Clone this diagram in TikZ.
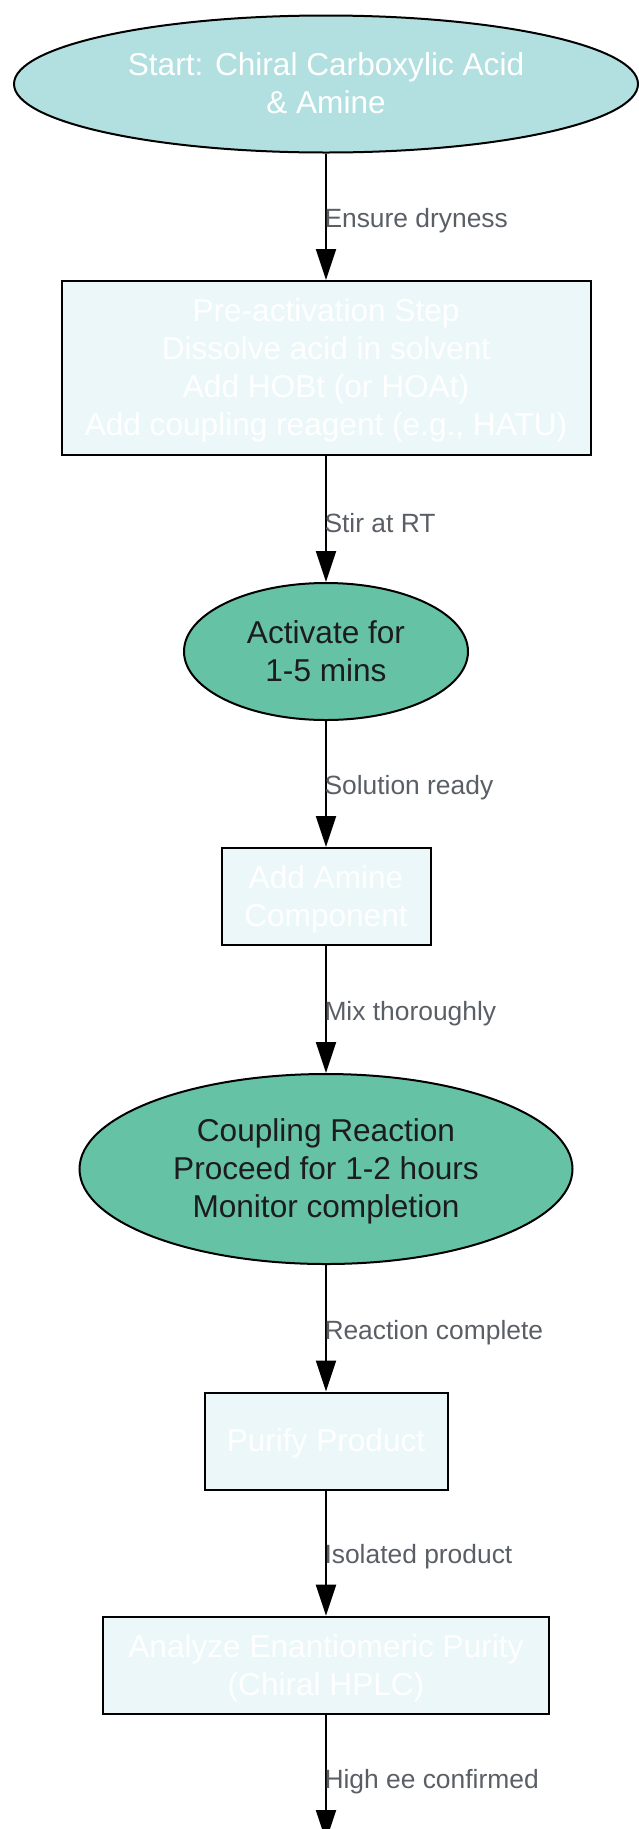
\documentclass[tikz,border=0pt]{standalone}
\usepackage{fontspec}
\setmainfont{Liberation Sans}
\usetikzlibrary{shapes.geometric,arrows.meta}
\definecolor{startfill}{HTML}{B2E0E0}
\definecolor{actfill}{HTML}{66C2A5}
\definecolor{boxfill}{HTML}{ECF7F9}
\definecolor{labelgray}{HTML}{5A5F66}
\definecolor{darktext}{HTML}{1C1C1C}
\newcommand\steptext[1]{\raisebox{-3.2pt}[\height][\depth]{\begin{tabular}{@{}c@{}}#1\end{tabular}}}
\begin{document}
\begin{tikzpicture}[x=1pt,y=1pt,>={Triangle[length=31pt,width=20pt]},
		every node/.style={font=\fontsize{31.6}{38}\selectfont,inner sep=0pt},
		oval/.style={ellipse,draw,line width=2pt},
		box/.style={rectangle,draw,line width=2pt,fill=boxfill,text=white},
		lbl/.style={font=\fontsize{26.4}{30}\selectfont,text=labelgray,anchor=west,midway,xshift=-2.5pt,yshift=-4pt}]
				\useasboundingbox (0,0) rectangle (638,-1829);
				\node[oval,fill=startfill,text=white,minimum width=624,minimum height=137] (start) at (326,-84) {\steptext{Start: Chiral Carboxylic Acid\\\& Amine}};
				\node[box,minimum width=529,minimum height=174] (preact) at (326,-368) {\steptext{Pre-activation Step\\Dissolve acid in solvent\\Add HOBt (or HOAt)\\Add coupling reagent (e.g., HATU)}};
				\node[oval,fill=actfill,text=darktext,minimum width=284,minimum height=137] (activate) at (326,-651.5) {\steptext{Activate for\\1-5 mins}};
				\node[box,minimum width=209,minimum height=97] (addamine) at (326,-896.5) {\steptext{Add Amine\\Component}};
				\node[oval,fill=actfill,text=darktext,minimum width=493,minimum height=190] (coupling) at (326,-1169) {\steptext{Coupling Reaction\\Proceed for 1-2 hours\\Monitor completion}};
				\node[box,minimum width=243,minimum height=97] (purify) at (326,-1441) {\steptext{Purify Product}};
				\node[box,minimum width=446,minimum height=97.6] (analyze) at (326,-1665.5) {\steptext{Analyze Enantiomeric Purity\\(Chiral HPLC)}};
				\coordinate (done) at (326,-1841);
				\begin{scope}[line width=2pt]
					\draw[->] (start) -- (preact) node[lbl]{Ensure dryness};
					\draw[->] (preact) -- (activate) node[lbl]{Stir at RT};
					\draw[->] (activate) -- (addamine) node[lbl]{Solution ready};
					\draw[->] (addamine) -- (coupling) node[lbl]{Mix thoroughly};
					\draw[->] (coupling) -- (purify) node[lbl]{Reaction complete};
					\draw[->] (purify) -- (analyze) node[lbl]{Isolated product};
					\draw[->] (analyze) -- (done) node[lbl]{High ee confirmed};
				\end{scope}
			\end{tikzpicture}
\end{document}
